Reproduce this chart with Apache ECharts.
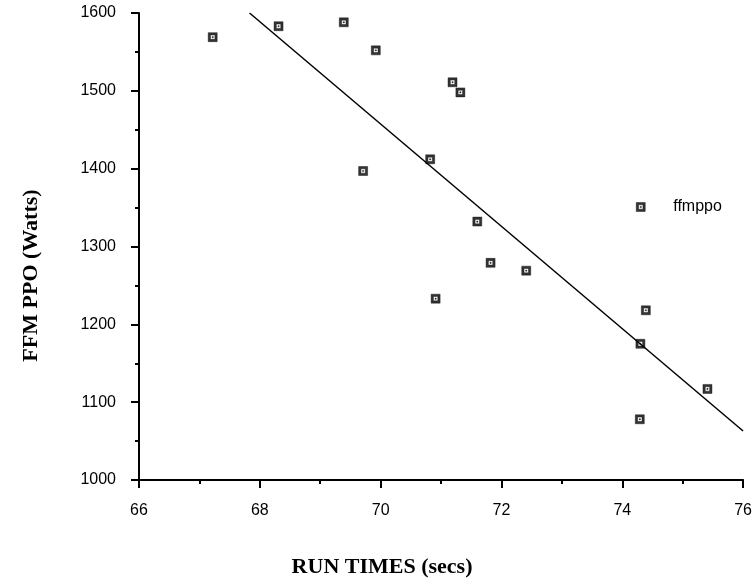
<!DOCTYPE html>
<html>
<head>
<meta charset="utf-8">
<script src="https://cdn.jsdelivr.net/npm/echarts@6/dist/echarts.min.js"></script>
<style>
html, body { margin: 0; padding: 0; background: #fff; }
#chart { width: 755px; height: 583px; }
</style>
</head>
<body>
<div id="chart"></div>
<script>
// run time (secs) vs FFM peak power output (Watts)
var runTimes = [67.22, 68.31, 69.39, 69.71, 69.92, 70.82, 70.91, 71.19, 71.32, 71.60, 71.82, 72.41, 74.29, 74.30, 74.39, 75.41];
var ppoWatts = [1569, 1583, 1588, 1397, 1552, 1412, 1233, 1511, 1498, 1332, 1279, 1269, 1078, 1175, 1218, 1117];
// fitted line ends
var fitX = [67.83, 76];
var fitY = [1600, 1063];
var xTicks = [66, 68, 70, 72, 74, 76];
var yTicks = [1000, 1100, 1200, 1300, 1400, 1500, 1600];

var boxMark = 'path://M0,0H9V9H0Z M2.3,2.3V6.7H6.7V2.3Z M3.9,3.9H5.1V5.1H3.9Z';
var sans = '"Liberation Sans", Arial, sans-serif';
var serif = '"Liberation Serif", "Times New Roman", serif';

var points = [];
for (var i = 0; i < runTimes.length; i++) {
	points.push([runTimes[i], ppoWatts[i]]);
}
var fitLine = [];
for (var j = 0; j < fitX.length; j++) {
	fitLine.push([fitX[j], fitY[j]]);
}

function axisCommon(extra) {
	return Object.assign({
		axisLine : { lineStyle : { color : '#000', width : 2 } },
		axisTick : { show : true, length : 8, lineStyle : { color : '#000', width : 2 } },
		minorTick : { show : true, splitNumber : 2, length : 4, lineStyle : { color : '#000', width : 2 } },
		splitLine : { show : false }
	}, extra);
}

var myChart = echarts.init(document.getElementById('chart'));
var option = {
	animation : false,
	grid : { left : 139, right : 6, top : 13, bottom : 99 },
	legend : {
		left : 631,
		top : 194,
		itemWidth : 9,
		itemHeight : 9,
		data : [{ name : 'ffmppo', icon : boxMark, itemStyle : { color : '#000', borderColor : '#000', borderWidth : 0.5 } }],
		textStyle : { color : '#000', fontFamily : sans, fontSize : 16, padding : [0, 0, 0, 23] }
	},
	xAxis : axisCommon({
		type : 'value',
		min : xTicks[0],
		max : xTicks[xTicks.length - 1],
		interval : 2,
		name : 'RUN TIMES (secs)',
		nameLocation : 'middle',
		nameGap : 76,
		nameTextStyle : { color : '#000', fontFamily : serif, fontWeight : 'bold', fontSize : 22, padding : [0, 118, 0, 0] },
		axisLabel : { color : '#000', fontFamily : sans, fontSize : 16, margin : 23 }
	}),
	yAxis : axisCommon({
		type : 'value',
		min : yTicks[0],
		max : yTicks[yTicks.length - 1],
		interval : 100,
		name : 'FFM PPO (Watts)',
		nameLocation : 'middle',
		nameGap : 97,
		nameTextStyle : { color : '#000', fontFamily : serif, fontWeight : 'bold', fontSize : 22, padding : [0, 58, 0, 0] },
		axisLabel : {
			color : '#000', fontFamily : sans, fontSize : 16, margin : 23,
			formatter : function(v) { return String(v); }
		}
	}),
	series : [{
		name : 'ffmppo',
		type : 'scatter',
		symbol : boxMark,
		symbolSize : 9,
		itemStyle : { color : '#000', borderColor : '#000', borderWidth : 0.5 },
		data : points
	}, {
		name : 'fit',
		type : 'line',
		symbol : 'none',
		lineStyle : { color : '#000', width : 1.5 },
		data : fitLine
	}]
};
myChart.setOption(option);
</script>
</body>
</html>
